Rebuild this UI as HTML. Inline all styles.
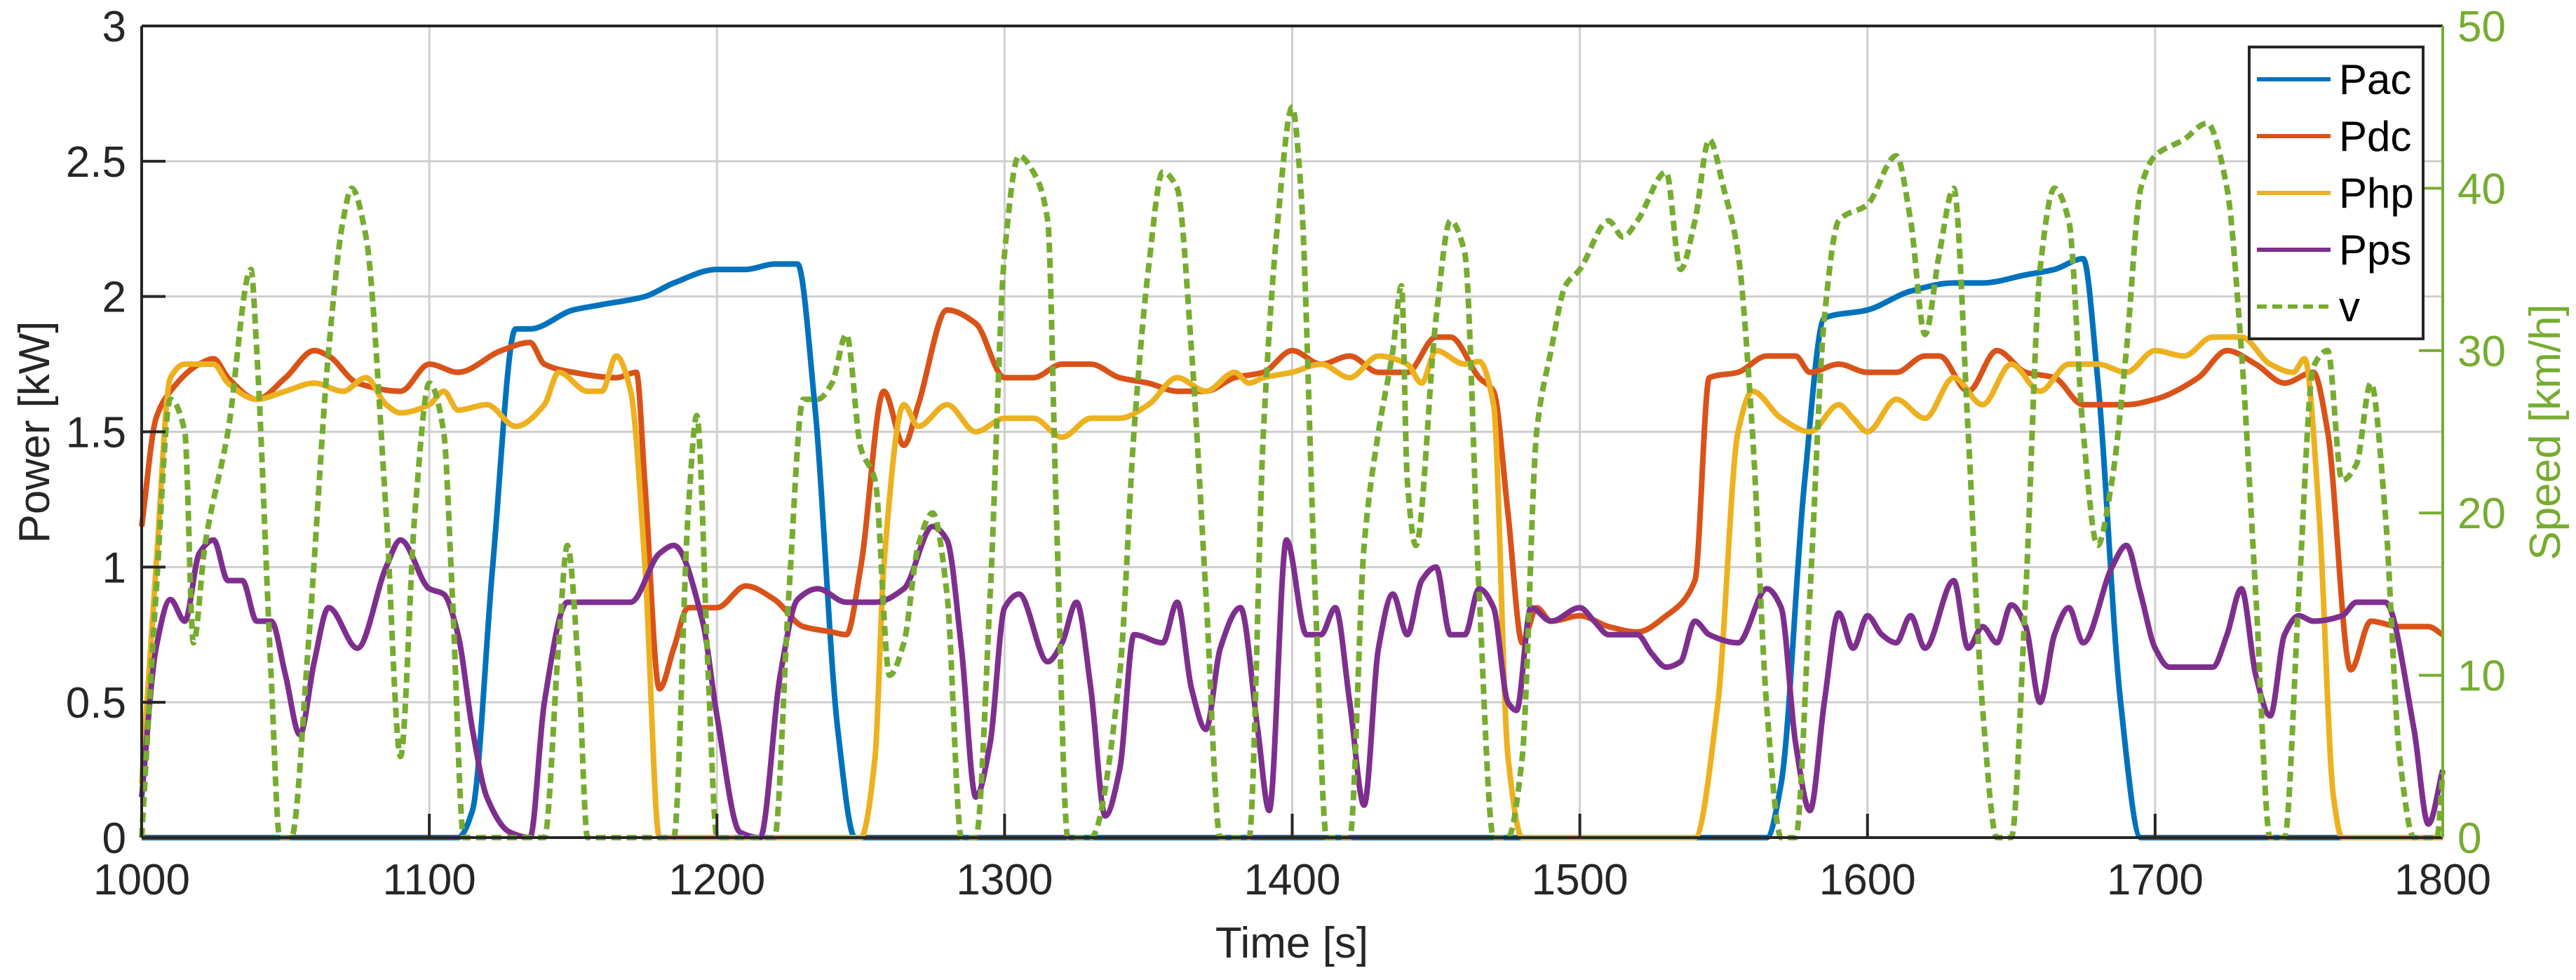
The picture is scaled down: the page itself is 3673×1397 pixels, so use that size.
<!DOCTYPE html>
<html><head><meta charset="utf-8"><style>
html,body{margin:0;padding:0;background:#fff;}
svg text{font-family:"Liberation Sans",Arial,sans-serif;}
</style></head><body>
<svg id="chart" xmlns="http://www.w3.org/2000/svg" width="3673" height="1392" viewBox="0 0 3673 1392">
<g id="grid"></g>
<g id="series"></g>
<g id="axes"></g>
<g id="legend"></g>
</svg>
<script>
const xTicks=[1000,1100,1200,1300,1400,1500,1600,1700,1800];
const yTicks=[0,0.5,1,1.5,2,2.5,3];
const yTickLabels=["0","0.5","1","1.5","2","2.5","3"];
const y2Ticks=[0,10,20,30,40,50];
const pacT=[1000,1110,1115,1122,1130,1135,1150,1160,1175,1185,1200,1210,1220,1228,1234,1242,1248,1565,1570,1578,1585,1600,1615,1630,1640,1655,1665,1675,1680,1688,1695,1800];
const pacV=[0,0,0.1,1.0,1.88,1.88,1.95,1.97,2.0,2.05,2.1,2.1,2.12,2.12,1.6,0.4,0,0,0.2,1.3,1.92,1.95,2.02,2.05,2.05,2.08,2.1,2.14,1.7,0.5,0,0];
const pdcT=[1000,1005,1010,1020,1025,1030,1040,1050,1060,1065,1075,1090,1100,1110,1125,1135,1140,1150,1165,1172,1175,1180,1185,1190,1200,1210,1220,1230,1240,1245,1250,1258,1265,1270,1280,1290,1300,1310,1320,1330,1340,1350,1360,1370,1380,1390,1400,1410,1420,1430,1440,1450,1455,1465,1470,1475,1480,1485,1490,1500,1510,1520,1530,1540,1545,1555,1565,1575,1580,1590,1600,1610,1620,1625,1635,1645,1655,1665,1675,1690,1700,1715,1725,1735,1745,1755,1760,1768,1775,1785,1795,1800];
const pdcV=[1.15,1.55,1.65,1.75,1.77,1.7,1.62,1.7,1.8,1.78,1.68,1.65,1.75,1.72,1.8,1.83,1.75,1.72,1.7,1.72,1.3,0.55,0.7,0.85,0.85,0.93,0.88,0.78,0.76,0.75,1.0,1.65,1.45,1.6,1.95,1.9,1.7,1.7,1.75,1.75,1.7,1.68,1.65,1.65,1.7,1.72,1.8,1.75,1.78,1.72,1.72,1.85,1.85,1.7,1.65,1.2,0.72,0.85,0.8,0.82,0.78,0.76,0.82,0.95,1.7,1.72,1.78,1.78,1.72,1.75,1.72,1.72,1.78,1.78,1.65,1.8,1.72,1.7,1.6,1.6,1.62,1.7,1.8,1.75,1.68,1.72,1.5,0.62,0.8,0.78,0.78,0.75];
const phpT=[1000,1005,1010,1015,1025,1030,1040,1050,1060,1070,1078,1085,1090,1100,1105,1110,1120,1130,1140,1145,1155,1160,1165,1170,1175,1180,1250,1255,1258,1265,1270,1280,1290,1300,1310,1320,1330,1340,1350,1360,1370,1380,1385,1390,1400,1410,1420,1430,1440,1445,1450,1460,1465,1470,1475,1480,1540,1548,1555,1560,1570,1580,1590,1595,1600,1610,1620,1630,1640,1650,1660,1670,1680,1690,1700,1710,1720,1730,1740,1748,1752,1757,1762,1765,1800];
const phpV=[0.2,1.0,1.7,1.75,1.75,1.68,1.62,1.65,1.68,1.65,1.7,1.6,1.57,1.6,1.65,1.58,1.6,1.52,1.6,1.72,1.65,1.65,1.78,1.65,1.0,0,0,0.3,1.0,1.6,1.52,1.6,1.5,1.55,1.55,1.48,1.55,1.55,1.6,1.7,1.65,1.72,1.68,1.7,1.72,1.75,1.7,1.78,1.75,1.68,1.8,1.75,1.76,1.6,0.3,0,0,0.5,1.5,1.65,1.55,1.5,1.6,1.55,1.5,1.62,1.55,1.7,1.6,1.75,1.65,1.75,1.75,1.72,1.8,1.78,1.85,1.85,1.75,1.72,1.77,1.2,0.15,0,0];
const ppsT=[1000,1005,1010,1015,1020,1025,1030,1035,1040,1045,1050,1055,1060,1065,1075,1085,1090,1100,1105,1110,1115,1120,1128,1135,1140,1148,1170,1180,1185,1195,1200,1208,1215,1222,1228,1235,1245,1255,1265,1275,1280,1285,1290,1295,1300,1305,1315,1320,1325,1330,1335,1340,1345,1355,1360,1365,1370,1375,1382,1388,1392,1398,1405,1410,1415,1420,1425,1430,1435,1440,1445,1450,1455,1460,1465,1470,1475,1478,1483,1490,1500,1505,1510,1520,1525,1530,1535,1540,1545,1555,1565,1570,1575,1580,1585,1590,1595,1600,1605,1610,1615,1620,1630,1635,1640,1645,1650,1655,1660,1665,1670,1675,1685,1690,1695,1700,1705,1720,1725,1730,1735,1740,1745,1750,1755,1765,1770,1780,1790,1795,1800];
const ppsV=[0.15,0.7,0.88,0.8,1.05,1.1,0.95,0.95,0.8,0.8,0.6,0.38,0.65,0.85,0.7,1.0,1.1,0.92,0.9,0.75,0.4,0.15,0.02,0,0.5,0.87,0.87,1.05,1.08,0.8,0.45,0.02,0,0.6,0.88,0.92,0.87,0.87,0.92,1.15,1.1,0.7,0.15,0.35,0.85,0.9,0.65,0.72,0.87,0.55,0.08,0.25,0.75,0.72,0.87,0.55,0.4,0.7,0.85,0.4,0.1,1.1,0.75,0.75,0.85,0.5,0.12,0.7,0.9,0.75,0.95,1.0,0.75,0.75,0.92,0.85,0.5,0.47,0.85,0.8,0.85,0.8,0.75,0.75,0.68,0.63,0.65,0.8,0.75,0.72,0.92,0.85,0.35,0.1,0.5,0.83,0.7,0.82,0.75,0.72,0.82,0.7,0.95,0.7,0.78,0.72,0.86,0.78,0.5,0.75,0.85,0.72,1.0,1.08,0.9,0.7,0.63,0.63,0.75,0.92,0.6,0.45,0.75,0.82,0.8,0.82,0.87,0.87,0.4,0.05,0.25];
const vT=[1000,1005,1010,1015,1018,1022,1030,1038,1040,1045,1048,1052,1058,1065,1070,1073,1078,1085,1090,1095,1100,1105,1108,1112,1140,1145,1148,1152,1155,1185,1190,1193,1197,1200,1220,1225,1230,1235,1240,1245,1250,1255,1260,1265,1270,1275,1280,1285,1290,1295,1300,1305,1310,1315,1318,1322,1330,1340,1345,1350,1355,1360,1365,1370,1375,1385,1390,1395,1400,1403,1408,1412,1420,1425,1430,1435,1438,1440,1443,1450,1455,1460,1465,1470,1475,1480,1485,1490,1495,1500,1510,1515,1520,1530,1535,1540,1545,1550,1555,1560,1565,1570,1575,1580,1585,1590,1600,1610,1615,1620,1625,1630,1635,1640,1645,1650,1655,1660,1665,1670,1675,1680,1685,1690,1695,1700,1710,1718,1725,1730,1735,1740,1745,1750,1755,1760,1765,1770,1775,1780,1785,1790,1798,1800];
const vV=[0,15,27,25,12,18,25,35,30,10,0,0,12,30,38,40,37,20,5,20,28,25,15,0,0,12,18,10,0,0,20,26,10,0,0,15,27,27,28,31,24,22,10,12,18,20,15,0,0,15,36,42,41,38,20,0,0,10,25,35,41,40,30,15,0,0,25,38,45,40,15,0,0,18,25,30,34,22,18,32,38,36,15,0,0,5,25,30,34,35,38,37,38,41,35,38,43,40,36,25,8,0,0,15,32,38,39,42,38,31,36,40,25,8,0,0,15,35,40,38,25,18,22,30,40,42,43,44,40,30,15,0,0,15,29,30,22,23,28,20,5,0,0,4];

const NS='http://www.w3.org/2000/svg';
const L=202,R=3483,T=37,B=1194;
const X=t=>L+(t-1000)/800*(R-L);
const Y=v=>B-v/3*(B-T);
const Y2=v=>B-v/50*(B-T);
function mk(tag,attrs,parent){const e=document.createElementNS(NS,tag);for(const k in attrs)e.setAttribute(k,attrs[k]);parent.appendChild(e);return e;}
const grid=document.getElementById('grid'),axes=document.getElementById('axes'),series=document.getElementById('series'),legend=document.getElementById('legend');

xTicks.forEach((t,i)=>{
  const g=mk('line',{x1:X(t),x2:X(t),y1:T,y2:B,stroke:'#cfcfcf','stroke-width':3},grid);
  
  
  const tk=mk('line',{x1:X(t),x2:X(t),y1:B,y2:B-34,stroke:'#262626','stroke-width':4},axes);
  
  
  const tx=mk('text',{x:X(t),y:1275,'font-size':62,'text-anchor':'middle',fill:'#262626'},axes);
  tx.textContent=t;
  
  
});
yTicks.forEach((v,i)=>{
  const g=mk('line',{x1:L,x2:R,y1:Y(v),y2:Y(v),stroke:'#cfcfcf','stroke-width':3},grid);
  
  
  const tk=mk('line',{x1:L,x2:L+34,y1:Y(v),y2:Y(v),stroke:'#262626','stroke-width':4},axes);
  
  
  const tx=mk('text',{x:180,y:Y(v)+22,'font-size':62,'text-anchor':'end',fill:'#262626'},axes);
  tx.textContent=yTickLabels[i];
  
  
});
y2Ticks.forEach(v=>{
  const tk=mk('line',{x1:R-34,x2:R,y1:Y2(v),y2:Y2(v),stroke:'#77AC30','stroke-width':4},axes);
  
  
  const tx=mk('text',{x:3504,y:Y2(v)+22,'font-size':62,'text-anchor':'start',fill:'#77AC30'},axes);
  tx.textContent=v;
  
  
});
const ax=[[L,B,R,B,'#262626','x-axis-line'],[L,T,L,B,'#262626','y-axis-line'],[L,T,R,T,'#262626','top-border'],[R,T,R,B,'#77AC30','y2-axis-line']];
ax.forEach(a=>{const e=mk('line',{x1:a[0],y1:a[1],x2:a[2],y2:a[3],stroke:a[4],'stroke-width':4},axes);
  
  });
let t1=mk('text',{x:1842,y:1365,'font-size':62,'text-anchor':'middle',fill:'#262626'},axes);t1.textContent='Time [s]';


let t2=mk('text',{x:0,y:0,'font-size':62,'text-anchor':'middle',fill:'#262626',transform:'translate(70,616) rotate(-90)'},axes);t2.textContent='Power [kW]';


let t3=mk('text',{x:0,y:0,'font-size':62,'text-anchor':'middle',fill:'#77AC30',transform:'translate(3650,616) rotate(-90)'},axes);t3.textContent='Speed [km/h]';



// monotone cubic (Fritsch-Carlson) in data space -> no overshoot
function pathFrom(ts,vs,yf){
  const n=ts.length,d=[],m=new Array(n);
  for(let i=0;i<n-1;i++)d.push((vs[i+1]-vs[i])/(ts[i+1]-ts[i]));
  m[0]=d[0];m[n-1]=d[n-2];
  for(let i=1;i<n-1;i++){
    if(d[i-1]*d[i]<=0)m[i]=0;
    else{const w1=2*(ts[i+1]-ts[i])+(ts[i]-ts[i-1]),w2=(ts[i+1]-ts[i])+2*(ts[i]-ts[i-1]);m[i]=(w1+w2)/(w1/d[i-1]+w2/d[i]);}
  }
  let p='M'+X(ts[0]).toFixed(1)+','+yf(vs[0]).toFixed(1);
  for(let i=0;i<n-1;i++){
    const h=ts[i+1]-ts[i];
    const c1t=ts[i]+h/3,c1v=vs[i]+m[i]*h/3,c2t=ts[i+1]-h/3,c2v=vs[i+1]-m[i+1]*h/3;
    p+=' C'+X(c1t).toFixed(1)+','+yf(c1v).toFixed(1)+' '+X(c2t).toFixed(1)+','+yf(c2v).toFixed(1)+' '+X(ts[i+1]).toFixed(1)+','+yf(vs[i+1]).toFixed(1);
  }
  return p;
}
const defs=[['pac-line',pacT,pacV,Y,'#0072BD',''],['pdc-line',pdcT,pdcV,Y,'#D95319',''],['php-line',phpT,phpV,Y,'#EDB120',''],['pps-line',ppsT,ppsV,Y,'#7E2F8E',''],['speed-line',vT,vV,Y2,'#77AC30','14 8']];
defs.forEach(s=>{
  const e=mk('path',{d:pathFrom(s[1],s[2],s[3]),fill:'none',stroke:s[4],'stroke-width':8,'stroke-linejoin':'round'},series);
  if(s[5])e.setAttribute('stroke-dasharray',s[5]);
  
  
});
const lb=mk('rect',{x:3207,y:67,width:248,height:416,fill:'#fff',stroke:'#262626','stroke-width':4},legend);


const legNames=['Pac','Pdc','Php','Pps','v'];
const legCols=['#0072BD','#D95319','#EDB120','#7E2F8E','#77AC30'];
legNames.forEach((n,i)=>{
  const y=113+i*81;
  const ln=mk('line',{x1:3218,x2:3323,y1:y,y2:y,stroke:legCols[i],'stroke-width':6},legend);
  if(i==4)ln.setAttribute('stroke-dasharray','14 8');
  
  
  const tx=mk('text',{x:3335,y:y+21,'font-size':60,fill:'#000'},legend);
  tx.textContent=n;
  
  
});
</script>
</body></html>
